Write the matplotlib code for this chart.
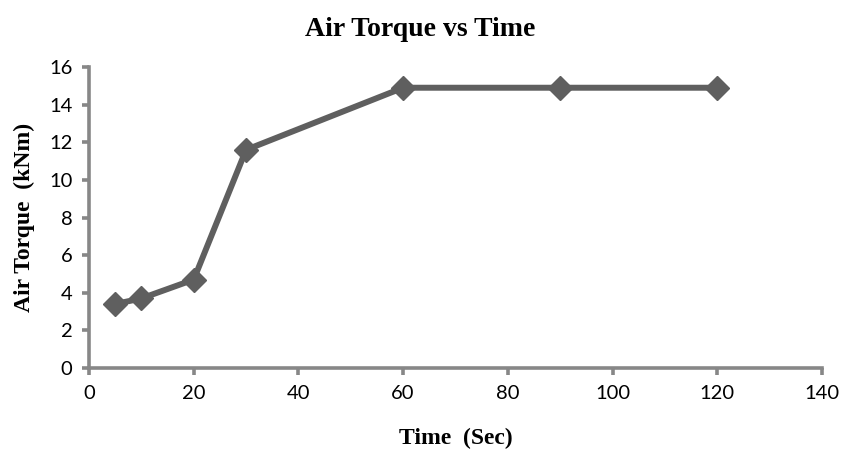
import matplotlib
matplotlib.use("Agg")
import matplotlib.pyplot as plt

time_sec = [5, 10, 20, 30, 60, 90, 120]
torque_knm = [3.4, 3.7, 4.7, 11.6, 14.9, 14.9, 14.9]

x_ticks = [0, 20, 40, 60, 80, 100, 120, 140]
y_ticks = [0, 2, 4, 6, 8, 10, 12, 14, 16]

AXIS_GRAY = "#878787"
LINE_GRAY = "#5f5f5f"

fig = plt.figure(figsize=(8.43, 4.53), dpi=100)
ax = fig.add_axes([0.1056, 0.1876, 0.8694, 0.6644])

ax.plot(time_sec, torque_knm, color=LINE_GRAY, lw=4.3, marker="D",
        markersize=12, markeredgecolor=LINE_GRAY, markerfacecolor=LINE_GRAY,
        solid_joinstyle="round", clip_on=False, zorder=3)

ax.set_xlim(0, 140)
ax.set_ylim(0, 16)
ax.set_xticks(x_ticks)
ax.set_yticks(y_ticks)

for side in ["top", "right"]:
    ax.spines[side].set_visible(False)
for side in ["left", "bottom"]:
    ax.spines[side].set_color(AXIS_GRAY)
    ax.spines[side].set_linewidth(2.6)

ax.tick_params(direction="out", length=5, width=2.6, color=AXIS_GRAY,
               labelsize=14.5, labelcolor="black", pad=7)
for lab in ax.get_xticklabels() + ax.get_yticklabels():
    lab.set_family("Lato")

serif = "Liberation Serif"
ax.set_title("Air Torque vs Time", family=serif, fontweight="bold",
             fontsize=20, pad=22, x=0.4516)
ax.set_xlabel("Time  (Sec)", family=serif, fontweight="bold", fontsize=17,
              labelpad=19)
ax.set_ylabel("Air Torque  (kNm)", family=serif, fontweight="bold",
              fontsize=17, labelpad=10)

fig.savefig("out.png", dpi=100, facecolor="white")
